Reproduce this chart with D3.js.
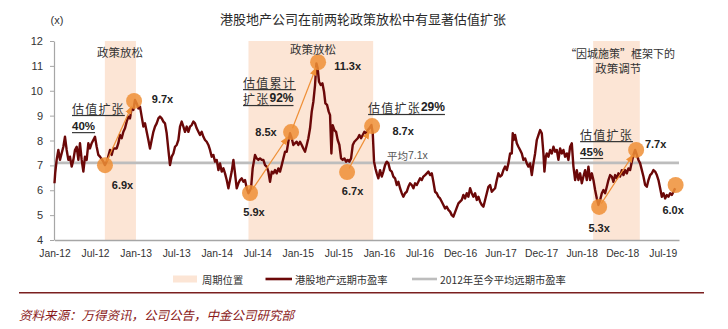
<!DOCTYPE html>
<html><head><meta charset="utf-8">
<script src="https://cdn.jsdelivr.net/npm/d3@7"></script>
<style>
html,body{margin:0;padding:0;background:#fff;}
svg{display:block;}
</style></head>
<body>
<svg id="chart" width="728" height="329"></svg>
<script>
// ---------- DATA ----------
const title = "港股地产公司在前两轮政策放松中有显著估值扩张";
const xTickLabels = ["Jan-12","Jul-12","Jan-13","Jul-13","Jan-14","Jul-14","Jan-15","Jul-15","Jan-16","Jul-16","Dec-16","Jun-17","Dec-17","Jun-18","Dec-18","Jul-19"];
const yTicks = [4,5,6,7,8,9,10,11,12];
const avgPE = 7.1;
// months since Jan-12 (position on the label grid)
const months = [0.00,0.10,0.32,0.57,0.81,1.31,1.55,1.80,2.05,2.29,2.54,2.79,3.03,3.28,3.53,3.77,4.02,4.27,4.51,4.76,5.01,5.25,5.50,5.99,6.24,6.49,6.73,7.23,7.47,7.82,8.21,8.46,8.71,9.20,9.45,9.69,9.94,10.19,10.43,10.68,10.93,11.17,11.42,11.67,11.91,12.16,12.41,12.65,12.90,13.15,13.39,13.64,13.89,14.13,14.38,14.63,14.87,15.12,15.37,15.61,15.86,16.11,16.35,16.60,16.85,17.09,17.34,17.59,17.83,18.08,18.33,18.57,18.82,19.07,19.31,19.56,19.81,20.05,20.30,20.55,20.79,21.04,21.29,21.53,21.78,22.03,22.27,22.52,22.77,23.01,23.26,23.51,23.75,24.00,24.25,24.49,24.74,24.99,25.23,25.48,25.73,25.97,26.22,26.47,26.71,26.96,27.21,27.45,27.70,27.95,28.19,28.44,28.69,
29.08,29.32,29.67,29.92,30.16,30.41,30.66,30.90,31.15,31.40,31.64,31.89,32.14,32.38,32.63,32.88,33.12,33.37,33.62,33.86,34.11,34.36,34.60,34.85,35.10,35.34,35.59,35.84,36.08,36.33,36.58,36.82,37.07,37.32,37.56,37.81,38.06,38.30,38.55,38.75,38.94,39.14,39.39,39.64,39.88,40.08,40.33,40.57,40.77,40.97,41.16,41.41,41.66,41.90,42.15,42.40,42.64,42.89,43.14,43.38,43.63,43.88,44.13,44.37,44.62,44.87,45.11,45.36,45.61,45.85,46.10,46.35,46.59,46.89,47.09,47.28,47.48,47.68,47.92,48.17,48.42,48.66,48.91,49.16,49.40,49.65,49.90,50.14,50.39,50.64,50.88,51.13,51.38,51.62,51.87,52.12,52.36,52.61,52.86,53.10,53.35,53.60,53.84,54.09,54.34,54.58,54.83,55.08,55.32,55.57,55.82,56.06,56.31,56.56,56.80,57.05,57.30,57.54,57.79,58.04,58.28,58.53,58.78,59.02,
59.76,60.26,60.50,60.75,61.00,61.24,61.49,61.74,61.98,62.23,62.48,62.72,62.97,63.22,63.46,63.71,63.96,64.20,64.45,64.70,64.94,65.19,65.44,65.68,65.93,66.18,66.42,66.67,66.92,67.16,67.41,67.66,67.80,67.95,68.15,68.40,68.64,68.89,69.14,69.38,69.63,69.88,70.12,70.37,70.62,70.86,71.11,71.36,71.60,71.85,72.10,72.34,72.49,72.69,72.84,73.08,73.33,73.58,73.82,74.07,74.32,74.56,74.81,75.06,75.30,75.55,75.80,76.04,76.29,76.54,76.78,77.03,77.28,77.52,77.77,78.02,78.26,78.51,78.76,79.00,79.25,79.50,79.74,79.99,80.24,80.48,80.73,80.98,81.22,81.47,81.72,81.96,82.21,82.46,82.70,82.95,83.20,83.44,83.69,83.94,84.18,84.43,84.68,84.92,85.17,85.42,85.66,85.91,86.16,86.40,86.65,86.90,87.14,87.39,87.64,87.88,88.13,88.38,88.62,88.87,89.12,89.36,89.61,89.86,90.10,90.35,90.60,90.84,91.09,91.34,91.58,91.83];
const pe = [6.28,6.68,7.22,7.62,7.22,7.75,8.15,7.62,7.22,7.35,6.95,7.22,7.62,7.75,7.22,7.89,7.22,6.75,7.35,7.22,7.89,7.68,7.89,8.15,7.75,7.42,7.35,7.15,7.01,7.22,7.62,7.42,7.68,7.68,7.89,8.22,8.09,8.35,8.49,8.76,8.96,8.89,9.29,9.23,9.63,9.49,9.29,9.36,8.96,8.56,8.69,8.35,8.02,7.68,8.02,8.35,8.56,8.69,8.89,8.96,8.89,8.76,8.69,8.29,7.62,7.01,7.35,7.48,7.75,7.82,8.02,8.56,8.76,8.56,8.35,8.56,8.35,8.56,8.62,8.76,8.69,8.49,8.35,8.22,8.35,8.15,8.02,7.95,7.82,7.62,7.35,7.42,7.15,7.22,6.81,7.08,6.75,6.88,6.68,6.41,6.08,6.41,6.75,7.22,6.68,6.08,6.28,6.41,6.48,6.34,6.41,6.08,5.88,
6.08,6.88,7.42,7.28,7.22,7.28,7.22,7.22,7.01,6.95,6.75,6.34,6.75,6.68,6.81,6.68,6.88,6.75,7.01,7.28,7.55,7.55,7.95,8.29,8.09,7.82,7.89,7.95,7.82,7.95,7.82,7.68,7.55,7.82,8.09,8.49,9.16,9.56,10.23,11.10,10.90,10.36,10.23,10.30,9.96,9.49,9.43,9.16,9.02,7.48,8.62,8.42,8.35,8.02,7.82,7.28,7.22,7.28,7.15,7.22,7.15,7.28,7.82,7.95,8.02,8.09,8.22,8.09,8.22,8.35,8.29,8.42,8.49,8.62,8.29,7.15,6.88,6.68,6.48,6.81,6.55,6.75,7.01,7.15,7.08,6.81,6.75,6.55,6.48,6.21,6.34,6.08,5.88,5.74,5.88,5.94,6.14,6.28,6.21,6.08,6.28,6.21,6.34,6.48,6.41,6.55,6.61,6.68,6.75,6.61,6.68,6.34,5.94,5.88,5.74,5.67,5.54,5.41,5.27,5.34,5.21,5.14,5.00,4.94,
5.47,5.61,5.81,5.67,5.88,5.74,6.08,5.88,5.74,5.88,5.61,5.74,5.54,5.41,5.34,5.61,5.88,6.14,6.21,5.94,6.01,6.08,6.41,6.68,6.55,6.61,6.81,6.95,6.81,7.08,7.48,7.48,8.29,8.02,8.22,7.89,7.75,7.62,7.48,7.22,7.28,7.08,6.95,7.08,6.61,7.08,7.48,8.02,8.22,8.42,8.29,7.48,6.75,7.35,7.48,7.35,7.62,7.48,7.75,7.55,7.62,7.22,7.68,7.48,7.62,7.35,7.48,7.22,7.75,7.89,6.95,6.41,6.81,6.41,6.68,6.28,6.55,6.81,6.41,6.95,6.41,6.68,6.41,6.01,5.67,5.41,5.61,5.88,6.01,5.88,6.14,6.41,6.61,6.55,6.34,6.61,6.48,6.68,6.55,6.81,6.61,6.81,6.68,6.88,6.81,7.15,7.42,7.62,7.42,7.22,7.08,6.81,6.55,6.21,6.14,6.41,6.61,6.68,6.81,6.75,6.61,6.41,6.08,5.74,5.88,5.67,5.81,5.74,5.88,5.81,5.94,6.08];
// policy-easing cycle bands (months)
const bandStart = [7.45, 28.7, 79.7];
const bandEnd   = [12.05, 47.15, 86.6];
// highlighted points
const markerMonth = [7.47, 11.77, 28.93, 35.0, 39.0, 43.29, 46.99, 80.58, 86.06, 91.9];
const markerPE    = [7.01, 9.59, 5.89, 8.34, 11.15, 6.73, 8.58, 5.33, 7.62, 6.21];
const markerLabel = ["6.9x","9.7x","5.9x","8.5x","11.3x","6.7x","8.7x","5.3x","7.7x","6.0x"];
// arrows: from marker index -> to marker index
const arrowFrom = [0, 2, 3, 5, 7];
const arrowTo   = [1, 3, 4, 6, 8];

// ---------- LAYOUT ----------
const svg = d3.select("#chart");
const x = d3.scaleLinear().domain([0, 92.4]).range([54.5, 679]);
const y = d3.scaleLinear().domain([4, 12]).range([240, 41]);
const CJK = "'Noto Sans CJK SC', 'Noto Sans', sans-serif";
const LAT = "'Liberation Sans', Arial, sans-serif";
const ORANGE = "#ef8f36";
const LINE = "#6b0808";

// title
svg.append("text").attr("x", 363).attr("y", 18).attr("text-anchor","middle")
  .attr("dominant-baseline","central").attr("font-family", CJK).attr("font-size", 13)
  .attr("fill","#2a2a2a").text(title);
svg.append("text").attr("x", 57).attr("y", 20).attr("text-anchor","middle")
  .attr("dominant-baseline","central").attr("font-family", LAT).attr("font-size", 11)
  .attr("fill","#333").text("(x)");

// bands
svg.append("g").selectAll("rect").data(bandStart).join("rect")
  .attr("x", (d,i)=>x(d)).attr("width",(d,i)=>x(bandEnd[i])-x(d))
  .attr("y", y(12)).attr("height", y(4)-y(12)).attr("fill","#fce5d5");

// y axis
const yAxis = svg.append("g").attr("transform",`translate(${x(0)-0.5},0)`)
  .call(d3.axisLeft(y).tickValues(yTicks).tickSize(4).tickSizeOuter(0).tickPadding(7).tickFormat(d3.format("d")));
yAxis.select(".domain").attr("stroke","#a6a6a6").attr("stroke-width",1.2);
yAxis.selectAll(".tick line").attr("stroke","#a6a6a6");
yAxis.selectAll("text").attr("font-family",LAT).attr("font-size",11).attr("fill","#333");

// x axis
const xAxis = svg.append("g").attr("transform",`translate(0,${y(4)})`)
  .call(d3.axisBottom(x).tickValues(d3.range(0, 91, 6)).tickSize(0).tickPadding(10)
    .tickFormat((d,i)=>xTickLabels[i]));
xAxis.select(".domain").attr("stroke","#a6a6a6").attr("stroke-width",1.6);
xAxis.selectAll("text").attr("font-family",LAT).attr("font-size",10.3).attr("fill","#333");

// average line
svg.append("line").attr("x1", x(0)).attr("x2", x(92.4)).attr("y1", y(avgPE)).attr("y2", y(avgPE))
  .attr("stroke","#bdbdbd").attr("stroke-width",2.6);

// PE line
const series = months.map((m,i)=>({m, v: pe[i]}));
svg.append("path").datum(series)
  .attr("d", d3.line().x(d=>x(d.m)).y(d=>y(d.v)))
  .attr("fill","none").attr("stroke",LINE).attr("stroke-width",2.4).attr("stroke-linejoin","round");

// arrows
const defs = svg.append("defs");
defs.append("marker").attr("id","ah").attr("viewBox","0 0 10 10").attr("refX",9).attr("refY",5)
  .attr("markerWidth",7).attr("markerHeight",7).attr("orient","auto")
  .append("path").attr("d","M0,1 L10,5 L0,9 Z").attr("fill",ORANGE);
arrowFrom.forEach((a,k)=>{
  const b = arrowTo[k];
  const x1 = x(markerMonth[a]), y1 = y(markerPE[a]), x2 = x(markerMonth[b]), y2 = y(markerPE[b]);
  const L = Math.hypot(x2-x1, y2-y1), ux = (x2-x1)/L, uy = (y2-y1)/L;
  svg.append("line").attr("x1", x1+ux*4).attr("y1", y1+uy*4).attr("x2", x2-ux*6).attr("y2", y2-uy*6)
    .attr("stroke",ORANGE).attr("stroke-width",1.2).attr("marker-end","url(#ah)");
});

// marker circles
svg.append("g").selectAll("circle").data(markerMonth).join("circle")
  .attr("cx", d=>x(d)).attr("cy",(d,i)=>y(markerPE[i])).attr("r",8)
  .attr("fill",ORANGE).attr("fill-opacity",0.85);

// marker value labels (offset in px from the circle)
const labelDx = [17.5, 28.5, 4, -25, 29.5, 5.5, 31, 0, 19.5, -2.5];
const labelDy = [20, -2, 19, 0, 4, 19, 5, 21, -6, 25];
svg.append("g").selectAll("text").data(markerLabel).join("text")
  .attr("x",(d,i)=>x(markerMonth[i])+labelDx[i]).attr("y",(d,i)=>y(markerPE[i])+labelDy[i])
  .attr("text-anchor","middle").attr("dominant-baseline","central")
  .attr("font-family",LAT).attr("font-weight","bold").attr("font-size",11).attr("fill","#222")
  .text(d=>d);

// annotations
function note(t, v, parts, opts={}){
  const tx = svg.append("text").attr("x", x(t)).attr("y", y(v))
    .attr("text-anchor", opts.anchor || "start").attr("dominant-baseline","central")
    .attr("font-family", CJK).attr("font-size", opts.size || 11.5)
    .attr("fill", opts.fill || "#333");
  if (opts.underline) tx.style("text-decoration","underline");
  parts.forEach(p=>{
    const ts = tx.append("tspan").text(p.t);
    if (p.b) ts.attr("font-family",LAT).attr("font-weight","bold").attr("fill","#222");
    if (p.ls) ts.attr("letter-spacing", p.ls);
  });
  return tx;
}
note(9.69, 11.55, [{t:"政策放松"}], {anchor:"middle"});
note(38.26, 11.68, [{t:"政策放松"}], {anchor:"middle"});
note(83.69, 11.52, [{t:"“因城施策”框架下的"}], {anchor:"middle", size:11});
note(83.4, 10.91, [{t:"政策调节"}], {anchor:"middle"});
note(2.59, 9.31, [{t:"估值扩张", ls:1.2}], {underline:true, size:12});
note(2.59, 8.58, [{t:"40%", b:true}], {underline:true, size:11.5});
note(27.9, 10.35, [{t:"估值累计", ls:1.2}], {underline:true, size:12});
note(27.9, 9.71, [{t:"扩张", ls:1.2},{t:"92%", b:true}], {underline:true, size:12});
note(46.4, 9.35, [{t:"估值扩张", ls:1.2},{t:"29%", b:true}], {underline:true, size:12});
note(77.77, 8.26, [{t:"估值扩张", ls:1.2}], {underline:true, size:12});
note(77.77, 7.54, [{t:"45%", b:true}], {underline:true, size:11.5});
const avgNote = note(49.2, 7.42, [{t:"平均"}], {size:10.5, fill:"#555"});
avgNote.append("tspan").attr("font-family",LAT).text("7.1x");

// legend
const ly = 279;
svg.append("rect").attr("x",173).attr("y",ly-3.5).attr("width",24).attr("height",7).attr("fill","#fce5d5");
svg.append("text").attr("x",202).attr("y",ly).attr("dominant-baseline","central")
  .attr("font-family",CJK).attr("font-size",10.3).attr("fill","#333").text("周期位置");
svg.append("line").attr("x1",265.5).attr("x2",292).attr("y1",ly).attr("y2",ly).attr("stroke",LINE).attr("stroke-width",2.6);
svg.append("text").attr("x",295).attr("y",ly).attr("dominant-baseline","central")
  .attr("font-family",CJK).attr("font-size",10.3).attr("fill","#333").text("港股地产远期市盈率");
svg.append("line").attr("x1",412).attr("x2",437).attr("y1",ly).attr("y2",ly).attr("stroke","#bdbdbd").attr("stroke-width",2.6);
svg.append("text").attr("x",440).attr("y",ly).attr("dominant-baseline","central")
  .attr("font-family",CJK).attr("font-size",10.3).attr("fill","#333").text("2012年至今平均远期市盈率");

// footer rule & source
svg.append("line").attr("x1",19).attr("x2",704).attr("y1",292.7).attr("y2",292.7).attr("stroke","#7a1f1f").attr("stroke-width",1.4);
svg.append("text").attr("x",19).attr("y",314).attr("dominant-baseline","central")
  .attr("font-family",CJK).attr("font-size",12.5).attr("font-style","italic").attr("fill","#8b1a1a")
  .text("资料来源：万得资讯，公司公告，中金公司研究部");
</script>
</body></html>
